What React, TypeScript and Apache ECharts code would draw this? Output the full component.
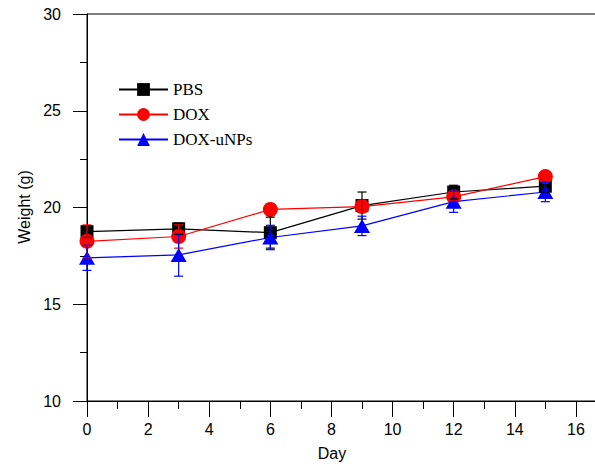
import React, { useEffect, useRef } from "react";
import * as echarts from "echarts";

const days = [0, 3, 6, 9, 12, 15];
const pbs = [18.75, 18.9, 18.7, 20.1, 20.8, 21.1];
const pbsErr = [0.3, 0.3, 0.8, 0.7, 0.35, 0.3];
const dox = [18.25, 18.5, 19.9, 20.05, 20.55, 21.6];
const doxErr = [0.85, 0.6, 0.3, 0.3, 0.2, 0.2];
const unps = [17.4, 17.55, 18.45, 19.05, 20.3, 20.8];
const unpsErr = [0.65, 1.1, 0.63, 0.5, 0.55, 0.5];
const seriesNames = ["PBS", "DOX", "DOX-uNPs"];
const yTicks = [10, 15, 20, 25, 30];
const xTicks = [0, 2, 4, 6, 8, 10, 12, 14, 16];

const sans = "'Liberation Sans', Arial, sans-serif";
const serif = "'Liberation Serif', 'Times New Roman', serif";

function errData(vals: number[], errs: number[]) {
  return days.map((d, i) => [d, vals[i] - errs[i], vals[i] + errs[i]]);
}

function errSeries(name: string, vals: number[], errs: number[], color: string) {
  return {
    type: "custom",
    name,
    z: 5,
    silent: true,
    data: errData(vals, errs),
    renderItem: (params: any, api: any) => {
      const x = api.value(0);
      const lo = api.coord([x, api.value(1)]);
      const hi = api.coord([x, api.value(2)]);
      const w = 4.5;
      const style = { stroke: color, lineWidth: 1.2 };
      return {
        type: "group",
        children: [
          { type: "line", shape: { x1: lo[0], y1: lo[1], x2: hi[0], y2: hi[1] }, style },
          { type: "line", shape: { x1: lo[0] - w, y1: lo[1], x2: lo[0] + w, y2: lo[1] }, style },
          { type: "line", shape: { x1: hi[0] - w, y1: hi[1], x2: hi[0] + w, y2: hi[1] }, style },
        ],
      };
    },
  };
}

function lineSeries(name: string, vals: number[], color: string, symbol: string, size: any) {
  return {
    type: "line",
    name,
    data: days.map((d, i) => [d, vals[i]]),
    symbol,
    symbolSize: size,
    showAllSymbol: true,
    lineStyle: { color, width: 1.2 },
    itemStyle: { color, borderWidth: 0 },
    z: 2,
  };
}

export default function App() {
  const ref = useRef<HTMLDivElement>(null);
  useEffect(() => {
    if (!ref.current) return;
    const chart = echarts.init(ref.current, null, { renderer: "svg" });
    chart.setOption({
      animation: false,
      backgroundColor: "#fff",
      grid: {
        left: 87,
        top: 14,
        width: 550,
        height: 387,
        outerBoundsMode: "none",
        containLabel: false,
        show: true,
        borderColor: "#000",
        borderWidth: 1,
      },
      legend: {
        data: seriesNames,
        orient: "vertical",
        left: 113,
        top: 76,
        itemWidth: 49,
        itemHeight: 16,
        itemGap: 8,
        textStyle: { fontFamily: serif, fontSize: 17, color: "#000" },
      },
      xAxis: {
        type: "value",
        min: 0,
        max: 18,
        interval: 2,
        axisLine: { show: true, lineStyle: { color: "#000", width: 1 } },
        axisTick: { show: true, length: 16, lineStyle: { color: "#000", width: 1 } },
        minorTick: { show: true, splitNumber: 2, length: 8, lineStyle: { color: "#000", width: 1 } },
        splitLine: { show: false },
        axisLabel: {
          margin: 20,
          fontFamily: sans,
          fontSize: 16,
          color: "#000",
          showMaxLabel: false,
          formatter: (v: number) => (xTicks.includes(v) ? String(v) : ""),
        },
      },
      yAxis: {
        type: "value",
        min: 10,
        max: 30,
        interval: 5,
        axisLine: { show: true, lineStyle: { color: "#000", width: 1 } },
        axisTick: { show: true, length: 14, lineStyle: { color: "#000", width: 1 } },
        minorTick: { show: true, splitNumber: 2, length: 7, lineStyle: { color: "#000", width: 1 } },
        splitLine: { show: false },
        axisLabel: {
          margin: 26,
          fontFamily: sans,
          fontSize: 16,
          color: "#000",
          formatter: (v: number) => (yTicks.includes(v) ? String(v) : ""),
        },
      },
      graphic: [
        {
          type: "text",
          x: 24,
          y: 207,
          rotation: Math.PI / 2,
          style: {
            text: "Weight (g)",
            fontFamily: sans,
            fontSize: 16,
            fill: "#000",
            align: "center",
            verticalAlign: "middle",
          },
        },
        {
          type: "text",
          x: 332,
          y: 453,
          style: {
            text: "Day",
            fontFamily: sans,
            fontSize: 16,
            fill: "#000",
            align: "center",
            verticalAlign: "middle",
          },
        },
      ],
      series: [
        lineSeries("PBS", pbs, "#000000", "rect", 13),
        lineSeries("DOX", dox, "#ff0000", "circle", 15),
        lineSeries("DOX-uNPs", unps, "#0000ff", "triangle", [16, 14]),
        errSeries("PBS err", pbs, pbsErr, "#000000"),
        errSeries("DOX err", dox, doxErr, "#ff0000"),
        errSeries("DOX-uNPs err", unps, unpsErr, "#0000ff"),
      ],
    });
    return () => chart.dispose();
  }, []);
  return (
    <div
      style={{ position: "absolute", left: 0, top: 0, width: 595, height: 468, overflow: "hidden", background: "#fff" }}
    >
      <div ref={ref} style={{ width: 660, height: 468 }} />
    </div>
  );
}
